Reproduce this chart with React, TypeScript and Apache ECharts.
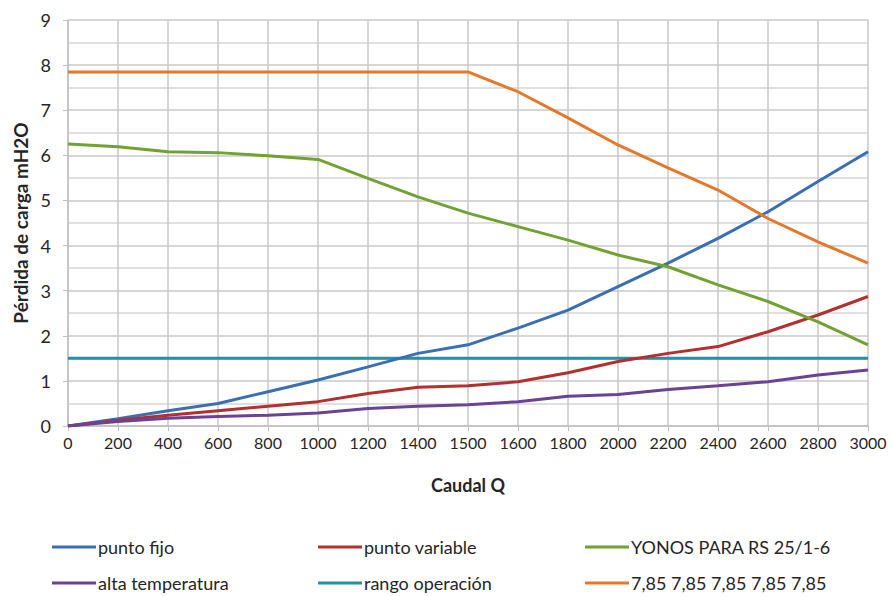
import React, { useEffect, useRef } from "react";
import * as echarts from "echarts";

const categories = ["0", "200", "400", "600", "800", "1000", "1200", "1400", "1500", "1600", "1800", "2000", "2200", "2400", "2600", "2800", "3000"];
const puntoFijo = [0, 0.16, 0.34, 0.5, 0.76, 1.02, 1.31, 1.61, 1.8, 2.17, 2.57, 3.09, 3.61, 4.16, 4.75, 5.42, 6.08];
const puntoVariable = [0, 0.13, 0.24, 0.34, 0.44, 0.54, 0.72, 0.86, 0.89, 0.98, 1.18, 1.43, 1.61, 1.76, 2.09, 2.46, 2.87];
const yonos = [6.25, 6.19, 6.08, 6.06, 5.99, 5.91, 5.49, 5.08, 4.72, 4.42, 4.12, 3.79, 3.53, 3.13, 2.76, 2.31, 1.8];
const altaTemperatura = [0, 0.1, 0.17, 0.21, 0.24, 0.29, 0.39, 0.44, 0.47, 0.54, 0.66, 0.7, 0.81, 0.89, 0.98, 1.13, 1.24];
const rangoOperacion = [1.5, 1.5, 1.5, 1.5, 1.5, 1.5, 1.5, 1.5, 1.5, 1.5, 1.5, 1.5, 1.5, 1.5, 1.5, 1.5, 1.5];
const linea785 = [7.85, 7.85, 7.85, 7.85, 7.85, 7.85, 7.85, 7.85, 7.85, 7.41, 6.83, 6.23, 5.72, 5.23, 4.6, 4.08, 3.61];

const names = ["punto fijo", "punto variable", "YONOS PARA RS 25/1-6", "alta temperatura", "rango operación", "7,85 7,85 7,85 7,85 7,85"];
const colors = ["#3A6FB5", "#B3302F", "#71A232", "#6A4296", "#2590A8", "#E7782A"];

const FONT = "Lato, 'Open Sans', sans-serif";

export default function App() {
  const ref = useRef<HTMLDivElement>(null);
  useEffect(() => {
    if (!ref.current) return;
    const chart = echarts.init(ref.current, undefined, { renderer: "svg" });
    const datasets = [puntoFijo, puntoVariable, yonos, altaTemperatura, rangoOperacion, linea785];
    const legendBase = {
      orient: "vertical" as const,
      itemWidth: 44,
      itemHeight: 3,
      itemGap: 16,
      padding: 0,
      icon: "rect",
      textStyle: { fontFamily: FONT, fontSize: 18, color: "#262626", padding: [0, 0, 0, -3], lineHeight: 20 },
    };
    chart.setOption({
      animation: false,
      grid: { left: 68, right: 23, top: 20, bottom: 170, containLabel: false },
      legend: [
        { ...legendBase, left: 52, top: 537, data: [names[0], names[3]] },
        { ...legendBase, left: 318, top: 537, data: [names[1], names[4]] },
        { ...legendBase, left: 585, top: 537, data: [names[2], names[5]] },
      ],
      xAxis: {
        type: "category",
        data: categories,
        boundaryGap: false,
        name: "Caudal Q",
        nameLocation: "middle",
        nameGap: 50,
        nameTextStyle: { fontFamily: FONT, fontSize: 18, fontWeight: "bold", color: "#262626" },
        axisLine: { lineStyle: { color: "#BFBFBF", width: 1.5 } },
        axisTick: { show: true, length: 5, lineStyle: { color: "#BFBFBF" } },
        axisLabel: { fontFamily: FONT, fontSize: 16, color: "#262626", margin: 8, interval: 0 },
        splitLine: { show: true, lineStyle: { color: "#C8C8C8", width: 1.5 } },
      },
      yAxis: {
        type: "value",
        min: 0,
        max: 9,
        interval: 1,
        name: "Pérdida de carga mH2O",
        nameLocation: "middle",
        nameGap: 38,
        nameTextStyle: { fontFamily: FONT, fontSize: 19, fontWeight: "bold", color: "#262626" },
        axisLine: { show: true, lineStyle: { color: "#BFBFBF", width: 1.5 } },
        axisTick: { show: true, length: 5, lineStyle: { color: "#BFBFBF" } },
        axisLabel: { fontFamily: FONT, fontSize: 18, color: "#262626", margin: 17 },
        splitLine: { show: true, lineStyle: { color: "#C8C8C8", width: 1.5 } },
        minorTick: { show: false, splitNumber: 2 },
        minorSplitLine: { show: true, lineStyle: { color: "#D6D6D6", width: 1.5 } },
      },
      series: datasets.map((d, i) => ({
        name: names[i],
        type: "line",
        data: d,
        showSymbol: false,
        symbol: "none",
        lineStyle: { color: colors[i], width: 3 },
        itemStyle: { color: colors[i] },
        z: i === 4 ? 1 : 2,
      })),
    });
    return () => chart.dispose();
  }, []);
  return <div ref={ref} style={{ width: 891, height: 596, position: "absolute", left: 0, top: 0 }} />;
}
